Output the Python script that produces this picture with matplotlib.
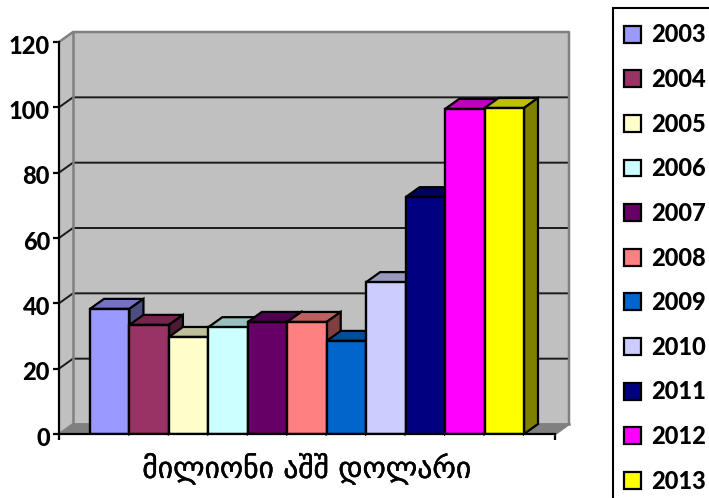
import numpy as np
import matplotlib
matplotlib.use("Agg")
import matplotlib.pyplot as plt
import matplotlib.patheffects as pe
from matplotlib.patches import Patch, Rectangle
from matplotlib.transforms import ScaledTranslation

years = ["2003", "2004", "2005", "2006", "2007", "2008", "2009", "2010", "2011", "2012", "2013"]
values = [38.3, 33.4, 29.7, 32.7, 34.3, 34.3, 28.5, 46.5, 72.5, 99.5, 99.8]
colors = ["#9999FF", "#993366", "#FFFFCC", "#CCFFFF", "#660066", "#FF8080",
          "#0066CC", "#CCCCFF", "#000080", "#FF00FF", "#FFFF00"]
y_ticks = [0, 20, 40, 60, 80, 100, 120]
axis_label = "მილიონი აშშ დოლარი"

plt.rcParams['font.family'] = ['Lato', 'DejaVu Sans']

W, H = 709, 498
fig = plt.figure(figsize=(W / 100, H / 100), dpi=100)
ax = fig.add_axes([59 / W, (H - 434) / H, 496 / W, 392 / H])
ax.patch.set_visible(False)

gap = 0.786
ax.set_xlim(-gap, len(values) + gap)
ax.set_ylim(0, 120)

# 3D depth in data units (14px right, 10px up)
dx = 14 / 39.45
dy = 10 / (392 / 120)
x0, x1 = ax.get_xlim()

# walls and floor
ax.fill([x0, x0 + dx, x0 + dx, x0], [0, dy, 120 + dy, 120], color="#C0C0C0", lw=0, zorder=1, clip_on=False)
ax.fill([x0 + dx, x1 + dx, x1 + dx, x0 + dx], [dy, dy, 120 + dy, 120 + dy], color="#C0C0C0", lw=0, zorder=1, clip_on=False)
ax.fill([x0, x0 + dx, x1 + dx, x1], [0, dy, dy, 0], facecolor="#808080", edgecolor="#808080", lw=1, zorder=1, clip_on=False)

# gridlines run along the side wall and the back wall
for t in y_ticks[1:-1]:
    ax.plot([x0, x0 + dx, x1 + dx], [t, t + dy, t + dy], color="#1a1a1a", lw=1.4, zorder=2, clip_on=False)

# wall edges
ax.plot([x0, x0 + dx, x1 + dx, x1 + dx, x1],
        [120, 120 + dy, 120 + dy, dy, 0], color="#808080", lw=1.8, zorder=2, clip_on=False)
ax.plot([x0 + dx, x0 + dx, x1 + dx], [120 + dy, dy, dy], color="#808080", lw=1.8, zorder=2, clip_on=False)
ax.plot([x0, x0 + dx], [0, dy], color="#808080", lw=1.5, zorder=2, clip_on=False)


def shade(c, f):
    r = np.array(matplotlib.colors.to_rgb(c)) * f
    return tuple(r)


# left to right, each bar overlaps the side of the one before
for i, (v, c) in enumerate(zip(values, colors)):
    z = 3 + i
    ax.bar(i + 0.5, v, width=1.0, color=c, edgecolor="black", linewidth=1.7, zorder=z + 0.5)
    ax.fill([i, i + dx, i + 1 + dx, i + 1], [v, v + dy, v + dy, v],
            facecolor=shade(c, 0.75), edgecolor="black", lw=1.6, zorder=z, clip_on=False)
    ax.fill([i + 1, i + 1 + dx, i + 1 + dx, i + 1], [0, dy, v + dy, v],
            facecolor=shade(c, 0.5), edgecolor="black", lw=1.6, zorder=z, clip_on=False)

for s in ["top", "right"]:
    ax.spines[s].set_visible(False)
for s in ["left", "bottom"]:
    ax.spines[s].set_linewidth(1.6)
    ax.spines[s].set_zorder(20)

ax.set_yticks(y_ticks)
ax.set_xticks([x0, x1])
ax.set_xticklabels([])
ax.tick_params(axis='y', length=4.5, width=1.6, pad=2, labelsize=17)
ax.tick_params(axis='x', length=4, width=1.6)
down = ScaledTranslation(0, -2 / 100, fig.dpi_scale_trans)
for lab in ax.get_yticklabels():
    lab.set_fontweight("black")
    lab.set_transform(lab.get_transform() + down)

lab_text = fig.text(307 / W, (H - 469) / H, axis_label, family="DejaVu Sans", fontsize=21.3, ha="center", va="center")
lab_text.set_path_effects([pe.withStroke(linewidth=0.3, foreground="black")])

# box runs off the right and bottom of the picture
fig.add_artist(Rectangle((613 / W, -0.1), 200 / W, 1.1 - 8 / H, transform=fig.transFigure,
                         facecolor="white", edgecolor="black", linewidth=1.5, zorder=1))

handles = [Patch(facecolor=c, edgecolor="black", linewidth=1.6) for c in colors]
leg = fig.legend(handles, years, loc="upper left", bbox_to_anchor=(621.5 / W, 1 - 21 / H),
                 borderaxespad=0, frameon=False,
                 prop={"family": "Lato", "weight": "black", "size": 17},
                 handlelength=0.72, handleheight=0.72, handletextpad=0.42,
                 labelspacing=0.916, borderpad=0.1)
leg.set_zorder(5)

fig.savefig("out.png", dpi=100)
